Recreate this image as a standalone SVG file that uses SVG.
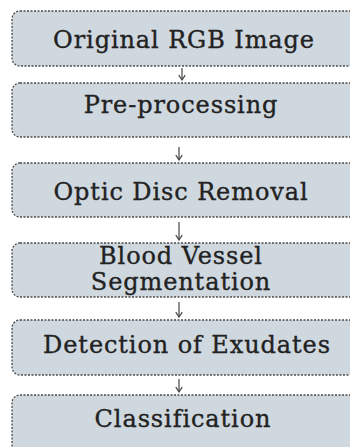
<svg xmlns="http://www.w3.org/2000/svg" width="350" height="447" viewBox="0 0 350 447">
<defs>
<marker id="ah" viewBox="0 0 10 10" refX="9" refY="5" markerWidth="8" markerHeight="8" orient="auto" markerUnits="userSpaceOnUse">
<path d="M3,1 L9,5 L3,9" fill="none" stroke="#444" stroke-width="1.5"/>
</marker>
</defs>
<style>
.box{fill:#cfd8df;stroke:#4a4a4a;stroke-width:1.3;stroke-dasharray:2 1.5}
.t{font-family:"DejaVu Serif","Liberation Serif",serif;font-size:24px;letter-spacing:0.9px;fill:#222;stroke:#222;stroke-width:0.35;text-anchor:middle}
.c{stroke:#444;stroke-width:1.2;fill:none;marker-end:url(#ah)}
</style>
<rect width="350" height="447" fill="#ffffff"/>
<g id="connectors">
<line class="c" x1="182" y1="68" x2="182" y2="80"/>
<line class="c" x1="179" y1="147" x2="179" y2="160"/>
<line class="c" x1="179" y1="222" x2="179" y2="240"/>
<line class="c" x1="179" y1="302" x2="179" y2="317"/>
<line class="c" x1="179" y1="379" x2="179" y2="392"/>
</g>
<g id="n1"><rect class="box" x="12" y="11" width="360" height="55" rx="8"/><text class="t" x="184" y="48">Original RGB Image</text></g>
<g id="n2"><rect class="box" x="12" y="83" width="360" height="54" rx="8"/><text class="t" x="181" y="113">Pre-processing</text></g>
<g id="n3"><rect class="box" x="12" y="163" width="360" height="54" rx="8"/><text class="t" x="181" y="200">Optic Disc Removal</text></g>
<g id="n4"><rect class="box" x="12" y="243" width="360" height="54" rx="8"/><text class="t" x="181" y="264">Blood Vessel</text><text class="t" x="181" y="290">Segmentation</text></g>
<g id="n5"><rect class="box" x="12" y="320" width="360" height="55" rx="8"/><text class="t" x="187" y="353">Detection of Exudates</text></g>
<g id="n6"><rect class="box" x="12" y="395" width="360" height="60" rx="8"/><text class="t" x="183" y="427">Classification</text></g>
</svg>
